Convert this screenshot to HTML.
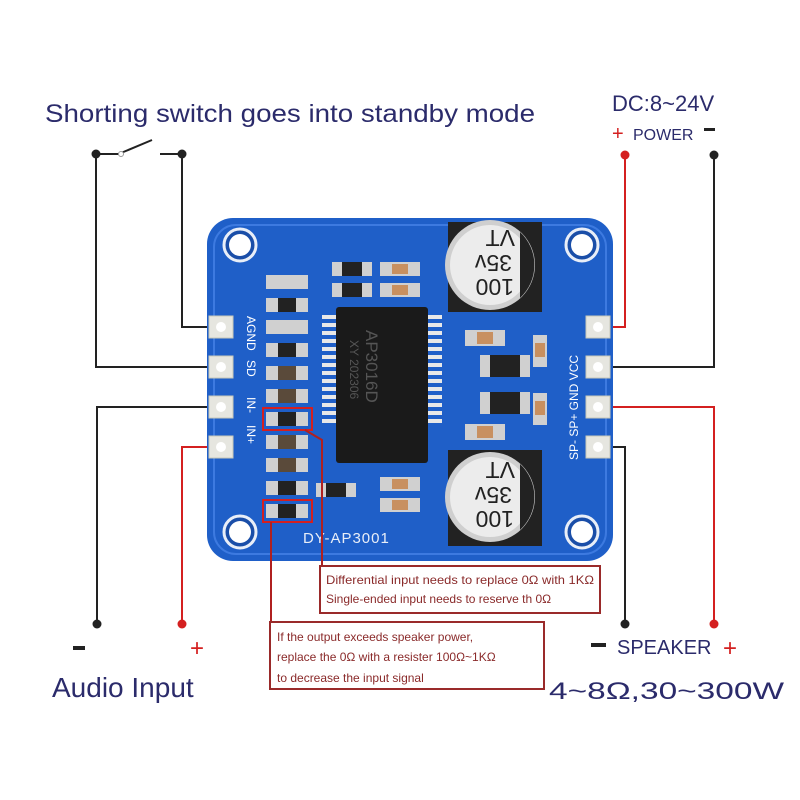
<!DOCTYPE html>
<html><head><meta charset="utf-8"><style>
html,body{margin:0;padding:0;background:#fff;width:800px;height:800px;overflow:hidden}
svg{display:block}
text{font-family:"Liberation Sans","DejaVu Sans",sans-serif}
</style></head><body>
<svg width="800" height="800" viewBox="0 0 800 800" xmlns="http://www.w3.org/2000/svg">
<rect width="800" height="800" fill="#fff"/>
<text x="45" y="122" font-size="25" fill="#2b2b6b" textLength="490" lengthAdjust="spacingAndGlyphs">Shorting switch goes into standby mode</text>
<text x="612" y="111" font-size="22" fill="#2b2b6b">DC:8~24V</text>
<text x="612" y="140" font-size="20" fill="#d42020">+</text>
<text x="633" y="140" font-size="16" fill="#2b2b6b">POWER</text>
<rect x="704" y="128" width="11" height="3" fill="#222"/>
<g stroke="#222" stroke-width="2" fill="none">
<line x1="96" y1="154" x2="120" y2="154"/>
<line x1="121" y1="153" x2="152" y2="140"/>
<line x1="160" y1="154" x2="182" y2="154"/>
<polyline points="96,154 96,367 218,367"/>
<polyline points="182,154 182,327 218,327"/>
<polyline points="218,407 97,407 97,624"/>
<polyline points="605,367 714,367 714,155"/>
<polyline points="605,447 625,447 625,624"/>
</g>
<g stroke="#d42020" stroke-width="2" fill="none">
<polyline points="218,447 182,447 182,624"/>
<polyline points="605,327 625,327 625,155"/>
<polyline points="605,407 714,407 714,624"/>
</g>
<circle cx="96" cy="154" r="4.5" fill="#222"/><circle cx="182" cy="154" r="4.5" fill="#222"/>
<circle cx="121" cy="154" r="2.5" fill="#fff" stroke="#999"/>
<circle cx="625" cy="155" r="4.5" fill="#d42020"/><circle cx="714" cy="155" r="4.5" fill="#222"/>
<circle cx="97" cy="624" r="4.5" fill="#222"/><circle cx="182" cy="624" r="4.5" fill="#d42020"/>
<circle cx="625" cy="624" r="4.5" fill="#222"/><circle cx="714" cy="624" r="4.5" fill="#d42020"/>
<rect x="207" y="218" width="406" height="343" rx="26" fill="#1f5fc8"/>
<rect x="214" y="225" width="392" height="329" rx="22" fill="none" stroke="#3d7ae0" stroke-width="2"/>
<g fill="#1a4ea8" stroke="#e8eef8" stroke-width="3">
<circle cx="240" cy="245" r="16"/><circle cx="582" cy="245" r="16"/>
<circle cx="240" cy="532" r="16"/><circle cx="582" cy="532" r="16"/>
</g>
<g fill="#fff"><circle cx="240" cy="245" r="11"/><circle cx="582" cy="245" r="11"/><circle cx="240" cy="532" r="11"/><circle cx="582" cy="532" r="11"/></g>
<g fill="#e6e6e0" stroke="#c8c8b8">
<rect x="209" y="316" width="24" height="22"/><rect x="209" y="356" width="24" height="22"/><rect x="209" y="396" width="24" height="22"/><rect x="209" y="436" width="24" height="22"/>
<rect x="586" y="316" width="24" height="22"/><rect x="586" y="356" width="24" height="22"/><rect x="586" y="396" width="24" height="22"/><rect x="586" y="436" width="24" height="22"/>
</g>
<g fill="#fff"><circle cx="221" cy="327" r="5"/><circle cx="221" cy="367" r="5"/><circle cx="221" cy="407" r="5"/><circle cx="221" cy="447" r="5"/>
<circle cx="598" cy="327" r="5"/><circle cx="598" cy="367" r="5"/><circle cx="598" cy="407" r="5"/><circle cx="598" cy="447" r="5"/></g>
<g font-size="12" fill="#fff">
<text transform="translate(247,316) rotate(90)">AGND</text>
<text transform="translate(247,360) rotate(90)">SD</text>
<text transform="translate(247,397) rotate(90)">IN-</text>
<text transform="translate(247,425) rotate(90)">IN+</text>
<text transform="translate(578,460) rotate(-90)">SP-  SP+  GND  VCC</text>
</g>
<text x="303" y="543" font-size="15" fill="#e8eef8" letter-spacing="1">DY-AP3001</text>
<g fill="#d0d0d0">
<rect x="266" y="275" width="42" height="14"/><rect x="266" y="298" width="42" height="14"/><rect x="266" y="320" width="42" height="14"/><rect x="266" y="343" width="42" height="14"/><rect x="266" y="366" width="42" height="14"/><rect x="266" y="389" width="42" height="14"/><rect x="266" y="412" width="42" height="14"/><rect x="266" y="435" width="42" height="14"/><rect x="266" y="458" width="42" height="14"/><rect x="266" y="481" width="42" height="14"/><rect x="266" y="504" width="42" height="14"/>
</g>
<g fill="#5a4a3a"><rect x="278" y="366" width="18" height="14"/><rect x="278" y="389" width="18" height="14"/><rect x="278" y="435" width="18" height="14"/><rect x="278" y="458" width="18" height="14"/></g>
<g fill="#222"><rect x="278" y="298" width="18" height="14"/><rect x="278" y="343" width="18" height="14"/><rect x="278" y="412" width="18" height="14"/><rect x="278" y="481" width="18" height="14"/><rect x="278" y="504" width="18" height="14"/></g>
<rect x="263" y="408" width="49" height="22" fill="none" stroke="#d42020" stroke-width="2"/>
<rect x="263" y="500" width="49" height="22" fill="none" stroke="#d42020" stroke-width="2"/>
<g fill="#d0d0d0"><rect x="332" y="262" width="40" height="14"/><rect x="332" y="283" width="40" height="14"/><rect x="380" y="262" width="40" height="14"/><rect x="380" y="283" width="40" height="14"/>
<rect x="316" y="483" width="40" height="14"/><rect x="380" y="477" width="40" height="14"/><rect x="380" y="498" width="40" height="14"/>
<rect x="465" y="330" width="40" height="16"/><rect x="480" y="355" width="50" height="22"/><rect x="480" y="392" width="50" height="22"/><rect x="465" y="424" width="40" height="16"/>
<rect x="533" y="335" width="14" height="32"/><rect x="533" y="393" width="14" height="32"/></g>
<g fill="#222"><rect x="342" y="262" width="20" height="14"/><rect x="342" y="283" width="20" height="14"/><rect x="326" y="483" width="20" height="14"/><rect x="490" y="355" width="30" height="22"/><rect x="490" y="392" width="30" height="22"/></g>
<g fill="#c89060"><rect x="392" y="264" width="16" height="10"/><rect x="392" y="285" width="16" height="10"/><rect x="392" y="479" width="16" height="10"/><rect x="392" y="500" width="16" height="10"/><rect x="477" y="332" width="16" height="12"/><rect x="477" y="426" width="16" height="12"/><rect x="535" y="343" width="10" height="14"/><rect x="535" y="401" width="10" height="14"/></g>
<g fill="#e8e8e8">
<rect x="322" y="315" width="20" height="4"/><rect x="322" y="323" width="20" height="4"/><rect x="322" y="331" width="20" height="4"/><rect x="322" y="339" width="20" height="4"/><rect x="322" y="347" width="20" height="4"/><rect x="322" y="355" width="20" height="4"/><rect x="322" y="363" width="20" height="4"/><rect x="322" y="371" width="20" height="4"/><rect x="322" y="379" width="20" height="4"/><rect x="322" y="387" width="20" height="4"/><rect x="322" y="395" width="20" height="4"/><rect x="322" y="403" width="20" height="4"/><rect x="322" y="411" width="20" height="4"/><rect x="322" y="419" width="20" height="4"/>
<rect x="422" y="315" width="20" height="4"/><rect x="422" y="323" width="20" height="4"/><rect x="422" y="331" width="20" height="4"/><rect x="422" y="339" width="20" height="4"/><rect x="422" y="347" width="20" height="4"/><rect x="422" y="355" width="20" height="4"/><rect x="422" y="363" width="20" height="4"/><rect x="422" y="371" width="20" height="4"/><rect x="422" y="379" width="20" height="4"/><rect x="422" y="387" width="20" height="4"/><rect x="422" y="395" width="20" height="4"/><rect x="422" y="403" width="20" height="4"/><rect x="422" y="411" width="20" height="4"/><rect x="422" y="419" width="20" height="4"/>
</g>
<rect x="336" y="307" width="92" height="156" rx="3" fill="#1a1a1a"/>
<text transform="translate(366,330) rotate(90)" font-size="17" fill="#555">AP3016D</text>
<text transform="translate(350,340) rotate(90)" font-size="12" fill="#555">XY 202306</text>
<rect x="448" y="222" width="94" height="90" fill="#222"/>
<circle cx="490" cy="265" r="45" fill="#cfcfcf"/><circle cx="490" cy="265" r="40" fill="#ececec"/>
<path d="M520 232 A45 45 0 0 1 520 298 Z" fill="#222"/>
<text transform="translate(515,230) rotate(180)" font-size="23" fill="#222">VT</text>
<text transform="translate(512,255) rotate(180)" font-size="23" fill="#222">35v</text>
<text transform="translate(514,279) rotate(180)" font-size="23" fill="#222">100</text>
<rect x="448" y="450" width="94" height="96" fill="#222"/>
<circle cx="490" cy="497" r="45" fill="#cfcfcf"/><circle cx="490" cy="497" r="40" fill="#ececec"/>
<path d="M520 464 A45 45 0 0 1 520 530 Z" fill="#222"/>
<text transform="translate(515,462) rotate(180)" font-size="23" fill="#222">VT</text>
<text transform="translate(512,487) rotate(180)" font-size="23" fill="#222">35v</text>
<text transform="translate(514,511) rotate(180)" font-size="23" fill="#222">100</text>
<g stroke="#b02020" stroke-width="2" fill="none">
<polyline points="305,430 322,440 322,566"/>
<line x1="271" y1="522" x2="271" y2="622"/>
</g>
<rect x="320" y="566" width="280" height="47" fill="#fff" stroke="#9a2a2a" stroke-width="2"/>
<text x="326" y="584" font-size="12" fill="#8a2a2a" textLength="268" lengthAdjust="spacingAndGlyphs">Differential input needs to replace 0Ω with 1KΩ</text>
<text x="326" y="603" font-size="12" fill="#8a2a2a">Single-ended input needs to reserve th 0Ω</text>
<rect x="270" y="622" width="274" height="67" fill="#fff" stroke="#9a2a2a" stroke-width="2"/>
<text x="277" y="641" font-size="12" fill="#8a2a2a">If the output exceeds speaker power,</text>
<text x="277" y="661" font-size="12" fill="#8a2a2a">replace the 0Ω with a resister 100Ω~1KΩ</text>
<text x="277" y="682" font-size="12" fill="#8a2a2a">to decrease the input signal</text>
<rect x="73" y="646" width="12" height="4" fill="#222"/>
<text x="190" y="656" font-size="24" fill="#d42020">+</text>
<text x="52" y="697" font-size="28" fill="#2b2b6b">Audio Input</text>
<rect x="591" y="643" width="15" height="4" fill="#222"/>
<text x="617" y="654" font-size="20" fill="#2b2b6b">SPEAKER</text>
<text x="723" y="656" font-size="24" fill="#d42020">+</text>
<text x="549" y="699" font-size="24" fill="#2b2b6b" textLength="235" lengthAdjust="spacingAndGlyphs">4~8Ω,30~300W</text>
</svg>
</body></html>
